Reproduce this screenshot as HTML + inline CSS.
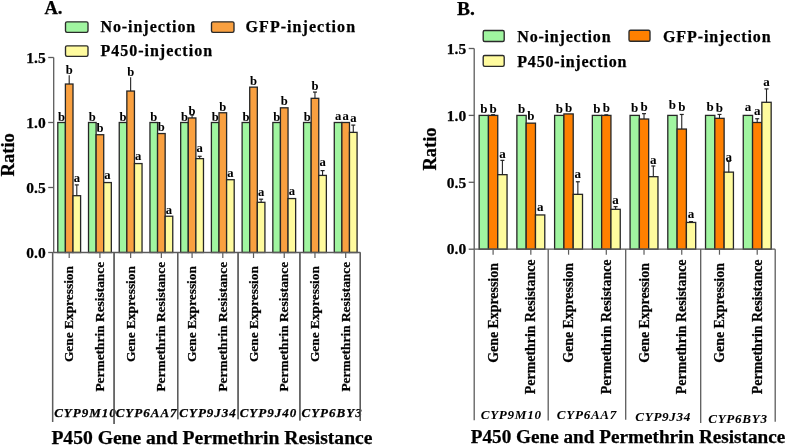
<!DOCTYPE html>
<html><head><meta charset="utf-8"><style>
html,body{margin:0;padding:0;background:#fff;}
body{width:787px;height:446px;overflow:hidden;}
svg{display:block;font-family:"Liberation Serif", serif;filter:blur(0.45px);}
text{stroke:#000;stroke-width:0.25px;paint-order:stroke;}
text.l{stroke-width:0.05px;}
</style></head><body>
<svg width="787" height="446" viewBox="0 0 787 446">
<rect width="787" height="446" fill="#fff"/>
<rect x="57.80" y="122.50" width="7.60" height="130.00" fill="#a0f5a0" stroke="#262626" stroke-width="1.3" rx="0"/>
<text class="l" x="61.60" y="120.70" font-size="12.6" text-anchor="middle" font-weight="bold" fill="#000">b</text>
<rect x="65.40" y="84.02" width="7.60" height="168.48" fill="#f9a040" stroke="#262626" stroke-width="1.3" rx="0"/>
<line x1="69.2" y1="84.01999999999998" x2="69.2" y2="75.31" stroke="#222" stroke-width="1.1"/>
<text class="l" x="69.20" y="73.70" font-size="12.6" text-anchor="middle" font-weight="bold" fill="#000">b</text>
<rect x="73.00" y="195.69" width="7.60" height="56.81" fill="#fffb9e" stroke="#262626" stroke-width="1.3" rx="0"/>
<line x1="76.8" y1="195.69" x2="76.8" y2="184.89999999999998" stroke="#222" stroke-width="1.1"/>
<line x1="74.8" y1="184.89999999999998" x2="78.8" y2="184.89999999999998" stroke="#222" stroke-width="1.2"/>
<text class="l" x="76.80" y="182.10" font-size="12.6" text-anchor="middle" font-weight="bold" fill="#000">a</text>
<rect x="88.52" y="122.50" width="7.60" height="130.00" fill="#a0f5a0" stroke="#262626" stroke-width="1.3" rx="0"/>
<text class="l" x="92.32" y="120.70" font-size="12.6" text-anchor="middle" font-weight="bold" fill="#000">b</text>
<rect x="96.12" y="134.72" width="7.60" height="117.78" fill="#f9a040" stroke="#262626" stroke-width="1.3" rx="0"/>
<text class="l" x="99.92" y="131.70" font-size="12.6" text-anchor="middle" font-weight="bold" fill="#000">b</text>
<rect x="103.72" y="182.56" width="7.60" height="69.94" fill="#fffb9e" stroke="#262626" stroke-width="1.3" rx="0"/>
<text class="l" x="107.52" y="179.20" font-size="12.6" text-anchor="middle" font-weight="bold" fill="#000">a</text>
<rect x="119.24" y="122.50" width="7.60" height="130.00" fill="#a0f5a0" stroke="#262626" stroke-width="1.3" rx="0"/>
<text class="l" x="123.04" y="120.70" font-size="12.6" text-anchor="middle" font-weight="bold" fill="#000">b</text>
<rect x="126.84" y="91.04" width="7.60" height="161.46" fill="#f9a040" stroke="#262626" stroke-width="1.3" rx="0"/>
<line x1="130.64" y1="91.03999999999999" x2="130.64" y2="77.25999999999999" stroke="#222" stroke-width="1.1"/>
<text class="l" x="130.64" y="76.20" font-size="12.6" text-anchor="middle" font-weight="bold" fill="#000">b</text>
<rect x="134.44" y="163.58" width="7.60" height="88.92" fill="#fffb9e" stroke="#262626" stroke-width="1.3" rx="0"/>
<text class="l" x="138.24" y="160.10" font-size="12.6" text-anchor="middle" font-weight="bold" fill="#000">a</text>
<rect x="149.96" y="122.50" width="7.60" height="130.00" fill="#a0f5a0" stroke="#262626" stroke-width="1.3" rx="0"/>
<text class="l" x="153.76" y="120.70" font-size="12.6" text-anchor="middle" font-weight="bold" fill="#000">b</text>
<rect x="157.56" y="133.55" width="7.60" height="118.95" fill="#f9a040" stroke="#262626" stroke-width="1.3" rx="0"/>
<text class="l" x="161.36" y="130.90" font-size="12.6" text-anchor="middle" font-weight="bold" fill="#000">b</text>
<rect x="165.16" y="216.23" width="7.60" height="36.27" fill="#fffb9e" stroke="#262626" stroke-width="1.3" rx="0"/>
<text class="l" x="168.96" y="213.50" font-size="12.6" text-anchor="middle" font-weight="bold" fill="#000">a</text>
<rect x="180.68" y="122.50" width="7.60" height="130.00" fill="#a0f5a0" stroke="#262626" stroke-width="1.3" rx="0"/>
<text class="l" x="184.48" y="120.70" font-size="12.6" text-anchor="middle" font-weight="bold" fill="#000">b</text>
<rect x="188.28" y="117.95" width="7.60" height="134.55" fill="#f9a040" stroke="#262626" stroke-width="1.3" rx="0"/>
<line x1="192.07999999999998" y1="117.95000000000002" x2="192.07999999999998" y2="114.95999999999998" stroke="#222" stroke-width="1.1"/>
<line x1="190.07999999999998" y1="114.95999999999998" x2="194.07999999999998" y2="114.95999999999998" stroke="#222" stroke-width="1.2"/>
<text class="l" x="192.08" y="114.50" font-size="12.6" text-anchor="middle" font-weight="bold" fill="#000">b</text>
<rect x="195.88" y="158.64" width="7.60" height="93.86" fill="#fffb9e" stroke="#262626" stroke-width="1.3" rx="0"/>
<line x1="199.68" y1="158.64" x2="199.68" y2="156.3" stroke="#222" stroke-width="1.1"/>
<line x1="197.68" y1="156.3" x2="201.68" y2="156.3" stroke="#222" stroke-width="1.2"/>
<text class="l" x="199.68" y="152.30" font-size="12.6" text-anchor="middle" font-weight="bold" fill="#000">a</text>
<rect x="211.40" y="122.50" width="7.60" height="130.00" fill="#a0f5a0" stroke="#262626" stroke-width="1.3" rx="0"/>
<text class="l" x="215.20" y="120.70" font-size="12.6" text-anchor="middle" font-weight="bold" fill="#000">b</text>
<rect x="219.00" y="112.75" width="7.60" height="139.75" fill="#f9a040" stroke="#262626" stroke-width="1.3" rx="0"/>
<text class="l" x="222.80" y="110.70" font-size="12.6" text-anchor="middle" font-weight="bold" fill="#000">b</text>
<rect x="226.60" y="179.70" width="7.60" height="72.80" fill="#fffb9e" stroke="#262626" stroke-width="1.3" rx="0"/>
<text class="l" x="230.40" y="176.70" font-size="12.6" text-anchor="middle" font-weight="bold" fill="#000">a</text>
<rect x="242.12" y="122.50" width="7.60" height="130.00" fill="#a0f5a0" stroke="#262626" stroke-width="1.3" rx="0"/>
<text class="l" x="245.92" y="120.70" font-size="12.6" text-anchor="middle" font-weight="bold" fill="#000">b</text>
<rect x="249.72" y="87.14" width="7.60" height="165.36" fill="#f9a040" stroke="#262626" stroke-width="1.3" rx="0"/>
<text class="l" x="253.52" y="85.30" font-size="12.6" text-anchor="middle" font-weight="bold" fill="#000">b</text>
<rect x="257.32" y="202.32" width="7.60" height="50.18" fill="#fffb9e" stroke="#262626" stroke-width="1.3" rx="0"/>
<line x1="261.12" y1="202.32" x2="261.12" y2="199.2" stroke="#222" stroke-width="1.1"/>
<line x1="259.12" y1="199.2" x2="263.12" y2="199.2" stroke="#222" stroke-width="1.2"/>
<text class="l" x="261.12" y="196.20" font-size="12.6" text-anchor="middle" font-weight="bold" fill="#000">a</text>
<rect x="272.84" y="122.50" width="7.60" height="130.00" fill="#a0f5a0" stroke="#262626" stroke-width="1.3" rx="0"/>
<text class="l" x="276.64" y="120.70" font-size="12.6" text-anchor="middle" font-weight="bold" fill="#000">b</text>
<rect x="280.44" y="107.81" width="7.60" height="144.69" fill="#f9a040" stroke="#262626" stroke-width="1.3" rx="0"/>
<text class="l" x="284.24" y="104.70" font-size="12.6" text-anchor="middle" font-weight="bold" fill="#000">b</text>
<rect x="288.04" y="198.55" width="7.60" height="53.95" fill="#fffb9e" stroke="#262626" stroke-width="1.3" rx="0"/>
<text class="l" x="291.84" y="195.20" font-size="12.6" text-anchor="middle" font-weight="bold" fill="#000">a</text>
<rect x="303.56" y="122.50" width="7.60" height="130.00" fill="#a0f5a0" stroke="#262626" stroke-width="1.3" rx="0"/>
<text class="l" x="307.36" y="120.70" font-size="12.6" text-anchor="middle" font-weight="bold" fill="#000">b</text>
<rect x="311.16" y="98.32" width="7.60" height="154.18" fill="#f9a040" stroke="#262626" stroke-width="1.3" rx="0"/>
<line x1="314.96" y1="98.32" x2="314.96" y2="92.08000000000001" stroke="#222" stroke-width="1.1"/>
<line x1="312.96" y1="92.08000000000001" x2="316.96" y2="92.08000000000001" stroke="#222" stroke-width="1.2"/>
<text class="l" x="314.96" y="89.50" font-size="12.6" text-anchor="middle" font-weight="bold" fill="#000">b</text>
<rect x="318.76" y="175.41" width="7.60" height="77.09" fill="#fffb9e" stroke="#262626" stroke-width="1.3" rx="0"/>
<line x1="322.56" y1="175.41" x2="322.56" y2="170.6" stroke="#222" stroke-width="1.1"/>
<line x1="320.56" y1="170.6" x2="324.56" y2="170.6" stroke="#222" stroke-width="1.2"/>
<text class="l" x="322.56" y="166.00" font-size="12.6" text-anchor="middle" font-weight="bold" fill="#000">a</text>
<rect x="334.28" y="122.50" width="7.60" height="130.00" fill="#a0f5a0" stroke="#262626" stroke-width="1.3" rx="0"/>
<text class="l" x="338.08" y="120.00" font-size="12.6" text-anchor="middle" font-weight="bold" fill="#000">a</text>
<rect x="341.88" y="122.50" width="7.60" height="130.00" fill="#f9a040" stroke="#262626" stroke-width="1.3" rx="0"/>
<text class="l" x="345.68" y="120.00" font-size="12.6" text-anchor="middle" font-weight="bold" fill="#000">a</text>
<rect x="349.48" y="132.38" width="7.60" height="120.12" fill="#fffb9e" stroke="#262626" stroke-width="1.3" rx="0"/>
<line x1="353.28000000000003" y1="132.38" x2="353.28000000000003" y2="125.10000000000001" stroke="#222" stroke-width="1.1"/>
<line x1="351.28000000000003" y1="125.10000000000001" x2="355.28000000000003" y2="125.10000000000001" stroke="#222" stroke-width="1.2"/>
<text class="l" x="353.28" y="121.70" font-size="12.6" text-anchor="middle" font-weight="bold" fill="#000">a</text>
<line x1="53.7" y1="57.5" x2="53.7" y2="252.5" stroke="#5c5c5c" stroke-width="1.3"/>
<line x1="48.2" y1="57.5" x2="53.7" y2="57.5" stroke="#5c5c5c" stroke-width="1.3"/>
<text x="45.70" y="62.70" font-size="15.5" text-anchor="end" font-weight="bold" fill="#000">1.5</text>
<line x1="48.2" y1="122.5" x2="53.7" y2="122.5" stroke="#5c5c5c" stroke-width="1.3"/>
<text x="45.70" y="127.70" font-size="15.5" text-anchor="end" font-weight="bold" fill="#000">1.0</text>
<line x1="48.2" y1="187.5" x2="53.7" y2="187.5" stroke="#5c5c5c" stroke-width="1.3"/>
<text x="45.70" y="192.70" font-size="15.5" text-anchor="end" font-weight="bold" fill="#000">0.5</text>
<line x1="48.2" y1="252.5" x2="53.7" y2="252.5" stroke="#5c5c5c" stroke-width="1.3"/>
<text x="45.70" y="257.70" font-size="15.5" text-anchor="end" font-weight="bold" fill="#000">0.0</text>
<line x1="53.7" y1="252.5" x2="360.3" y2="252.5" stroke="#5c5c5c" stroke-width="1.3"/>
<line x1="52.6" y1="252.5" x2="52.6" y2="421.9" stroke="#5c5c5c" stroke-width="1.3"/>
<line x1="114.1" y1="252.5" x2="114.1" y2="423.9" stroke="#5c5c5c" stroke-width="1.3"/>
<line x1="177.7" y1="252.5" x2="177.7" y2="419.3" stroke="#5c5c5c" stroke-width="1.3"/>
<line x1="238.1" y1="252.5" x2="238.1" y2="419.3" stroke="#5c5c5c" stroke-width="1.3"/>
<line x1="299.9" y1="252.5" x2="299.9" y2="420.4" stroke="#5c5c5c" stroke-width="1.3"/>
<line x1="360.3" y1="252.5" x2="360.3" y2="421.0" stroke="#5c5c5c" stroke-width="1.3"/>
<line x1="69.2" y1="252.5" x2="69.2" y2="258.0" stroke="#5c5c5c" stroke-width="1.2"/>
<text x="73.30" y="266.0" font-size="13.4" text-anchor="end" font-weight="bold" transform="rotate(-90 73.30 266.0)" fill="#000">Gene Expression</text>
<line x1="99.92" y1="252.5" x2="99.92" y2="258.0" stroke="#5c5c5c" stroke-width="1.2"/>
<text x="104.02" y="261.8" font-size="13.4" text-anchor="end" font-weight="bold" transform="rotate(-90 104.02 261.8)" fill="#000">Permethrin Resistance</text>
<line x1="130.64" y1="252.5" x2="130.64" y2="258.0" stroke="#5c5c5c" stroke-width="1.2"/>
<text x="134.74" y="266.0" font-size="13.4" text-anchor="end" font-weight="bold" transform="rotate(-90 134.74 266.0)" fill="#000">Gene Expression</text>
<line x1="161.36" y1="252.5" x2="161.36" y2="258.0" stroke="#5c5c5c" stroke-width="1.2"/>
<text x="165.46" y="261.8" font-size="13.4" text-anchor="end" font-weight="bold" transform="rotate(-90 165.46 261.8)" fill="#000">Permethrin Resistance</text>
<line x1="192.07999999999998" y1="252.5" x2="192.07999999999998" y2="258.0" stroke="#5c5c5c" stroke-width="1.2"/>
<text x="196.18" y="266.0" font-size="13.4" text-anchor="end" font-weight="bold" transform="rotate(-90 196.18 266.0)" fill="#000">Gene Expression</text>
<line x1="222.8" y1="252.5" x2="222.8" y2="258.0" stroke="#5c5c5c" stroke-width="1.2"/>
<text x="226.90" y="261.8" font-size="13.4" text-anchor="end" font-weight="bold" transform="rotate(-90 226.90 261.8)" fill="#000">Permethrin Resistance</text>
<line x1="253.51999999999998" y1="252.5" x2="253.51999999999998" y2="258.0" stroke="#5c5c5c" stroke-width="1.2"/>
<text x="257.62" y="266.0" font-size="13.4" text-anchor="end" font-weight="bold" transform="rotate(-90 257.62 266.0)" fill="#000">Gene Expression</text>
<line x1="284.24" y1="252.5" x2="284.24" y2="258.0" stroke="#5c5c5c" stroke-width="1.2"/>
<text x="288.34" y="261.8" font-size="13.4" text-anchor="end" font-weight="bold" transform="rotate(-90 288.34 261.8)" fill="#000">Permethrin Resistance</text>
<line x1="314.96" y1="252.5" x2="314.96" y2="258.0" stroke="#5c5c5c" stroke-width="1.2"/>
<text x="319.06" y="266.0" font-size="13.4" text-anchor="end" font-weight="bold" transform="rotate(-90 319.06 266.0)" fill="#000">Gene Expression</text>
<line x1="345.68" y1="252.5" x2="345.68" y2="258.0" stroke="#5c5c5c" stroke-width="1.2"/>
<text x="349.78" y="261.8" font-size="13.4" text-anchor="end" font-weight="bold" transform="rotate(-90 349.78 261.8)" fill="#000">Permethrin Resistance</text>
<rect x="479.15" y="115.40" width="9.30" height="133.80" fill="#a0f5a0" stroke="#262626" stroke-width="1.3" rx="0"/>
<text class="l" x="483.80" y="112.60" font-size="13.0" text-anchor="middle" font-weight="bold" fill="#000">b</text>
<rect x="488.45" y="115.40" width="9.30" height="133.80" fill="#ff8000" stroke="#262626" stroke-width="1.3" rx="0"/>
<line x1="493.1" y1="115.39999999999998" x2="493.1" y2="114.731" stroke="#222" stroke-width="1.1"/>
<line x1="491.1" y1="114.731" x2="495.1" y2="114.731" stroke="#222" stroke-width="1.2"/>
<text class="l" x="493.10" y="112.60" font-size="13.0" text-anchor="middle" font-weight="bold" fill="#000">b</text>
<rect x="497.75" y="174.67" width="9.30" height="74.53" fill="#fffb9e" stroke="#262626" stroke-width="1.3" rx="0"/>
<line x1="502.4" y1="174.67339999999996" x2="502.4" y2="160.35679999999996" stroke="#222" stroke-width="1.1"/>
<line x1="500.4" y1="160.35679999999996" x2="504.4" y2="160.35679999999996" stroke="#222" stroke-width="1.2"/>
<text class="l" x="502.40" y="158.40" font-size="13.0" text-anchor="middle" font-weight="bold" fill="#000">a</text>
<rect x="516.88" y="115.40" width="9.30" height="133.80" fill="#a0f5a0" stroke="#262626" stroke-width="1.3" rx="0"/>
<text class="l" x="521.53" y="112.60" font-size="13.0" text-anchor="middle" font-weight="bold" fill="#000">b</text>
<rect x="526.18" y="123.16" width="9.30" height="126.04" fill="#ff8000" stroke="#262626" stroke-width="1.3" rx="0"/>
<text class="l" x="530.83" y="120.00" font-size="13.0" text-anchor="middle" font-weight="bold" fill="#000">b</text>
<rect x="535.48" y="214.95" width="9.30" height="34.25" fill="#fffb9e" stroke="#262626" stroke-width="1.3" rx="0"/>
<text class="l" x="540.13" y="210.90" font-size="13.0" text-anchor="middle" font-weight="bold" fill="#000">a</text>
<rect x="554.61" y="115.40" width="9.30" height="133.80" fill="#a0f5a0" stroke="#262626" stroke-width="1.3" rx="0"/>
<text class="l" x="559.26" y="112.60" font-size="13.0" text-anchor="middle" font-weight="bold" fill="#000">b</text>
<rect x="563.91" y="113.93" width="9.30" height="135.27" fill="#ff8000" stroke="#262626" stroke-width="1.3" rx="0"/>
<text class="l" x="568.56" y="111.50" font-size="13.0" text-anchor="middle" font-weight="bold" fill="#000">b</text>
<rect x="573.21" y="194.34" width="9.30" height="54.86" fill="#fffb9e" stroke="#262626" stroke-width="1.3" rx="0"/>
<line x1="577.86" y1="194.34199999999998" x2="577.86" y2="181.76479999999998" stroke="#222" stroke-width="1.1"/>
<line x1="575.86" y1="181.76479999999998" x2="579.86" y2="181.76479999999998" stroke="#222" stroke-width="1.2"/>
<text class="l" x="577.86" y="178.30" font-size="13.0" text-anchor="middle" font-weight="bold" fill="#000">a</text>
<rect x="592.34" y="115.40" width="9.30" height="133.80" fill="#a0f5a0" stroke="#262626" stroke-width="1.3" rx="0"/>
<text class="l" x="596.99" y="112.60" font-size="13.0" text-anchor="middle" font-weight="bold" fill="#000">b</text>
<rect x="601.64" y="115.40" width="9.30" height="133.80" fill="#ff8000" stroke="#262626" stroke-width="1.3" rx="0"/>
<line x1="606.29" y1="115.39999999999998" x2="606.29" y2="114.86479999999997" stroke="#222" stroke-width="1.1"/>
<line x1="604.29" y1="114.86479999999997" x2="608.29" y2="114.86479999999997" stroke="#222" stroke-width="1.2"/>
<text class="l" x="606.29" y="111.90" font-size="13.0" text-anchor="middle" font-weight="bold" fill="#000">b</text>
<rect x="610.94" y="209.33" width="9.30" height="39.87" fill="#fffb9e" stroke="#262626" stroke-width="1.3" rx="0"/>
<line x1="615.5899999999999" y1="209.3276" x2="615.5899999999999" y2="206.65159999999997" stroke="#222" stroke-width="1.1"/>
<line x1="613.5899999999999" y1="206.65159999999997" x2="617.5899999999999" y2="206.65159999999997" stroke="#222" stroke-width="1.2"/>
<text class="l" x="615.59" y="203.70" font-size="13.0" text-anchor="middle" font-weight="bold" fill="#000">a</text>
<rect x="630.07" y="115.40" width="9.30" height="133.80" fill="#a0f5a0" stroke="#262626" stroke-width="1.3" rx="0"/>
<text class="l" x="634.72" y="112.40" font-size="13.0" text-anchor="middle" font-weight="bold" fill="#000">b</text>
<rect x="639.37" y="119.01" width="9.30" height="130.19" fill="#ff8000" stroke="#262626" stroke-width="1.3" rx="0"/>
<line x1="644.02" y1="119.01259999999999" x2="644.02" y2="113.66059999999999" stroke="#222" stroke-width="1.1"/>
<line x1="642.02" y1="113.66059999999999" x2="646.02" y2="113.66059999999999" stroke="#222" stroke-width="1.2"/>
<text class="l" x="644.02" y="110.50" font-size="13.0" text-anchor="middle" font-weight="bold" fill="#000">b</text>
<rect x="648.67" y="176.68" width="9.30" height="72.52" fill="#fffb9e" stroke="#262626" stroke-width="1.3" rx="0"/>
<line x1="653.3199999999999" y1="176.68039999999996" x2="653.3199999999999" y2="165.97639999999998" stroke="#222" stroke-width="1.1"/>
<line x1="651.3199999999999" y1="165.97639999999998" x2="655.3199999999999" y2="165.97639999999998" stroke="#222" stroke-width="1.2"/>
<text class="l" x="653.32" y="163.70" font-size="13.0" text-anchor="middle" font-weight="bold" fill="#000">a</text>
<rect x="667.80" y="115.40" width="9.30" height="133.80" fill="#a0f5a0" stroke="#262626" stroke-width="1.3" rx="0"/>
<text class="l" x="672.45" y="108.50" font-size="13.0" text-anchor="middle" font-weight="bold" fill="#000">b</text>
<rect x="677.10" y="129.05" width="9.30" height="120.15" fill="#ff8000" stroke="#262626" stroke-width="1.3" rx="0"/>
<line x1="681.75" y1="129.0476" x2="681.75" y2="114.46339999999998" stroke="#222" stroke-width="1.1"/>
<line x1="679.75" y1="114.46339999999998" x2="683.75" y2="114.46339999999998" stroke="#222" stroke-width="1.2"/>
<text class="l" x="681.75" y="111.40" font-size="13.0" text-anchor="middle" font-weight="bold" fill="#000">b</text>
<rect x="686.40" y="222.44" width="9.30" height="26.76" fill="#fffb9e" stroke="#262626" stroke-width="1.3" rx="0"/>
<line x1="691.05" y1="222.44" x2="691.05" y2="221.63719999999998" stroke="#222" stroke-width="1.1"/>
<line x1="689.05" y1="221.63719999999998" x2="693.05" y2="221.63719999999998" stroke="#222" stroke-width="1.2"/>
<text class="l" x="691.05" y="217.70" font-size="13.0" text-anchor="middle" font-weight="bold" fill="#000">a</text>
<rect x="705.53" y="115.40" width="9.30" height="133.80" fill="#a0f5a0" stroke="#262626" stroke-width="1.3" rx="0"/>
<text class="l" x="710.18" y="111.00" font-size="13.0" text-anchor="middle" font-weight="bold" fill="#000">b</text>
<rect x="714.83" y="118.34" width="9.30" height="130.86" fill="#ff8000" stroke="#262626" stroke-width="1.3" rx="0"/>
<line x1="719.48" y1="118.34359999999998" x2="719.48" y2="114.46339999999998" stroke="#222" stroke-width="1.1"/>
<line x1="717.48" y1="114.46339999999998" x2="721.48" y2="114.46339999999998" stroke="#222" stroke-width="1.2"/>
<text class="l" x="719.48" y="111.60" font-size="13.0" text-anchor="middle" font-weight="bold" fill="#000">b</text>
<rect x="724.13" y="172.13" width="9.30" height="77.07" fill="#fffb9e" stroke="#262626" stroke-width="1.3" rx="0"/>
<line x1="728.78" y1="172.13119999999998" x2="728.78" y2="161.42719999999997" stroke="#222" stroke-width="1.1"/>
<line x1="726.78" y1="161.42719999999997" x2="730.78" y2="161.42719999999997" stroke="#222" stroke-width="1.2"/>
<text class="l" x="728.78" y="161.30" font-size="13.0" text-anchor="middle" font-weight="bold" fill="#000">a</text>
<rect x="743.26" y="115.40" width="9.30" height="133.80" fill="#a0f5a0" stroke="#262626" stroke-width="1.3" rx="0"/>
<text class="l" x="747.91" y="111.00" font-size="13.0" text-anchor="middle" font-weight="bold" fill="#000">a</text>
<rect x="752.56" y="122.49" width="9.30" height="126.71" fill="#ff8000" stroke="#262626" stroke-width="1.3" rx="0"/>
<line x1="757.21" y1="122.49139999999998" x2="757.21" y2="118.74499999999998" stroke="#222" stroke-width="1.1"/>
<line x1="755.21" y1="118.74499999999998" x2="759.21" y2="118.74499999999998" stroke="#222" stroke-width="1.2"/>
<text class="l" x="757.21" y="115.30" font-size="13.0" text-anchor="middle" font-weight="bold" fill="#000">a</text>
<rect x="761.86" y="102.29" width="9.30" height="146.91" fill="#fffb9e" stroke="#262626" stroke-width="1.3" rx="0"/>
<line x1="766.51" y1="102.28759999999997" x2="766.51" y2="88.90759999999997" stroke="#222" stroke-width="1.1"/>
<line x1="764.51" y1="88.90759999999997" x2="768.51" y2="88.90759999999997" stroke="#222" stroke-width="1.2"/>
<text class="l" x="766.51" y="85.50" font-size="13.0" text-anchor="middle" font-weight="bold" fill="#000">a</text>
<line x1="474.2" y1="48.49999999999997" x2="474.2" y2="249.2" stroke="#5c5c5c" stroke-width="1.3"/>
<line x1="468.7" y1="48.49999999999997" x2="474.2" y2="48.49999999999997" stroke="#5c5c5c" stroke-width="1.3"/>
<text x="466.20" y="53.70" font-size="15.5" text-anchor="end" font-weight="bold" fill="#000">1.5</text>
<line x1="468.7" y1="115.39999999999998" x2="474.2" y2="115.39999999999998" stroke="#5c5c5c" stroke-width="1.3"/>
<text x="466.20" y="120.60" font-size="15.5" text-anchor="end" font-weight="bold" fill="#000">1.0</text>
<line x1="468.7" y1="182.29999999999998" x2="474.2" y2="182.29999999999998" stroke="#5c5c5c" stroke-width="1.3"/>
<text x="466.20" y="187.50" font-size="15.5" text-anchor="end" font-weight="bold" fill="#000">0.5</text>
<line x1="468.7" y1="249.2" x2="474.2" y2="249.2" stroke="#5c5c5c" stroke-width="1.3"/>
<text x="466.20" y="254.40" font-size="15.5" text-anchor="end" font-weight="bold" fill="#000">0.0</text>
<line x1="474.2" y1="249.2" x2="775.2" y2="249.2" stroke="#5c5c5c" stroke-width="1.3"/>
<line x1="474.2" y1="249.2" x2="474.2" y2="420.3" stroke="#5c5c5c" stroke-width="1.3"/>
<line x1="548.2" y1="249.2" x2="548.2" y2="420.5" stroke="#5c5c5c" stroke-width="1.3"/>
<line x1="625.7" y1="249.2" x2="625.7" y2="419.7" stroke="#5c5c5c" stroke-width="1.3"/>
<line x1="700.7" y1="249.2" x2="700.7" y2="422.9" stroke="#5c5c5c" stroke-width="1.3"/>
<line x1="775.2" y1="249.2" x2="775.2" y2="421.8" stroke="#5c5c5c" stroke-width="1.3"/>
<line x1="493.1" y1="249.2" x2="493.1" y2="254.7" stroke="#5c5c5c" stroke-width="1.2"/>
<text x="497.60" y="263.1" font-size="13.9" text-anchor="end" font-weight="bold" transform="rotate(-90 497.60 263.1)" fill="#000">Gene Expression</text>
<line x1="530.83" y1="249.2" x2="530.83" y2="254.7" stroke="#5c5c5c" stroke-width="1.2"/>
<text x="535.33" y="259.5" font-size="13.9" text-anchor="end" font-weight="bold" transform="rotate(-90 535.33 259.5)" fill="#000">Permethrin Resistance</text>
<line x1="568.5600000000001" y1="249.2" x2="568.5600000000001" y2="254.7" stroke="#5c5c5c" stroke-width="1.2"/>
<text x="573.06" y="263.1" font-size="13.9" text-anchor="end" font-weight="bold" transform="rotate(-90 573.06 263.1)" fill="#000">Gene Expression</text>
<line x1="606.29" y1="249.2" x2="606.29" y2="254.7" stroke="#5c5c5c" stroke-width="1.2"/>
<text x="610.79" y="259.5" font-size="13.9" text-anchor="end" font-weight="bold" transform="rotate(-90 610.79 259.5)" fill="#000">Permethrin Resistance</text>
<line x1="644.02" y1="249.2" x2="644.02" y2="254.7" stroke="#5c5c5c" stroke-width="1.2"/>
<text x="648.52" y="263.1" font-size="13.9" text-anchor="end" font-weight="bold" transform="rotate(-90 648.52 263.1)" fill="#000">Gene Expression</text>
<line x1="681.75" y1="249.2" x2="681.75" y2="254.7" stroke="#5c5c5c" stroke-width="1.2"/>
<text x="686.25" y="259.5" font-size="13.9" text-anchor="end" font-weight="bold" transform="rotate(-90 686.25 259.5)" fill="#000">Permethrin Resistance</text>
<line x1="719.48" y1="249.2" x2="719.48" y2="254.7" stroke="#5c5c5c" stroke-width="1.2"/>
<text x="723.98" y="263.1" font-size="13.9" text-anchor="end" font-weight="bold" transform="rotate(-90 723.98 263.1)" fill="#000">Gene Expression</text>
<line x1="757.21" y1="249.2" x2="757.21" y2="254.7" stroke="#5c5c5c" stroke-width="1.2"/>
<text x="761.71" y="259.5" font-size="13.9" text-anchor="end" font-weight="bold" transform="rotate(-90 761.71 259.5)" fill="#000">Permethrin Resistance</text>
<text x="54.20" y="417.3" font-size="13.0" text-anchor="start" font-weight="bold" font-style="italic" letter-spacing="1.0" fill="#000">CYP9M10</text>
<text x="115.70" y="417.3" font-size="13.0" text-anchor="start" font-weight="bold" font-style="italic" letter-spacing="1.0" fill="#000">CYP6AA7</text>
<text x="179.30" y="417.3" font-size="13.0" text-anchor="start" font-weight="bold" font-style="italic" letter-spacing="1.0" fill="#000">CYP9J34</text>
<text x="239.70" y="417.3" font-size="13.0" text-anchor="start" font-weight="bold" font-style="italic" letter-spacing="1.0" fill="#000">CYP9J40</text>
<text x="301.50" y="417.3" font-size="13.0" text-anchor="start" font-weight="bold" font-style="italic" letter-spacing="1.0" fill="#000">CYP6BY3</text>
<text class="l" x="511.20" y="419.4" font-size="13.1" text-anchor="middle" font-weight="bold" font-style="italic" letter-spacing="0.7" fill="#000">CYP9M10</text>
<text class="l" x="586.95" y="419.4" font-size="13.1" text-anchor="middle" font-weight="bold" font-style="italic" letter-spacing="0.7" fill="#000">CYP6AA7</text>
<text class="l" x="663.20" y="421.0" font-size="13.1" text-anchor="middle" font-weight="bold" font-style="italic" letter-spacing="0.7" fill="#000">CYP9J34</text>
<text class="l" x="737.95" y="422.6" font-size="13.1" text-anchor="middle" font-weight="bold" font-style="italic" letter-spacing="0.7" fill="#000">CYP6BY3</text>
<line x1="52.6" y1="252.5" x2="52.6" y2="421.9" stroke="#5c5c5c" stroke-width="1.3"/>
<line x1="114.1" y1="252.5" x2="114.1" y2="423.9" stroke="#5c5c5c" stroke-width="1.3"/>
<line x1="177.7" y1="252.5" x2="177.7" y2="419.3" stroke="#5c5c5c" stroke-width="1.3"/>
<line x1="238.1" y1="252.5" x2="238.1" y2="419.3" stroke="#5c5c5c" stroke-width="1.3"/>
<line x1="299.9" y1="252.5" x2="299.9" y2="420.4" stroke="#5c5c5c" stroke-width="1.3"/>
<line x1="360.3" y1="252.5" x2="360.3" y2="421.0" stroke="#5c5c5c" stroke-width="1.3"/>
<text x="51.4" y="443.8" font-size="19.6" text-anchor="start" font-weight="bold" fill="#000">P450 Gene and Permethrin Resistance</text>
<text x="470.8" y="443.0" font-size="19.2" text-anchor="start" font-weight="bold" fill="#000">P450 Gene and Permethrin Resistance</text>
<text x="44.4" y="14.4" font-size="18.5" text-anchor="start" font-weight="bold" fill="#000">A.</text>
<text x="457.1" y="15.0" font-size="19.5" text-anchor="start" font-weight="bold" fill="#000">B.</text>
<text x="14.2" y="154.8" font-size="18.5" text-anchor="middle" font-weight="bold" transform="rotate(-90 14.2 154.8)" fill="#000">Ratio</text>
<text x="436.3" y="149.0" font-size="18.5" text-anchor="middle" font-weight="bold" transform="rotate(-90 436.3 149.0)" fill="#000">Ratio</text>
<rect x="65.50" y="21.80" width="22.50" height="10.50" fill="#a0f5a0" stroke="#2a2a2a" stroke-width="1.35" rx="1.5"/>
<rect x="65.50" y="45.80" width="22.50" height="10.50" fill="#fffb9e" stroke="#2a2a2a" stroke-width="1.35" rx="1.5"/>
<rect x="211.50" y="21.80" width="22.50" height="10.50" fill="#f9a040" stroke="#2a2a2a" stroke-width="1.35" rx="1.5"/>
<text x="100.4" y="32.4" font-size="16" text-anchor="start" font-weight="bold" letter-spacing="0.95" fill="#000">No-injection</text>
<text x="100.4" y="56.4" font-size="16" text-anchor="start" font-weight="bold" letter-spacing="1.0" fill="#000">P450-injection</text>
<text x="245.6" y="32.4" font-size="16" text-anchor="start" font-weight="bold" letter-spacing="1.05" fill="#000">GFP-injection</text>
<rect x="483.20" y="30.50" width="21.00" height="11.00" fill="#a0f5a0" stroke="#2a2a2a" stroke-width="1.35" rx="1.5"/>
<rect x="483.20" y="55.50" width="21.00" height="10.80" fill="#fffb9e" stroke="#2a2a2a" stroke-width="1.35" rx="1.5"/>
<rect x="629.00" y="30.20" width="21.00" height="11.00" fill="#ff8000" stroke="#2a2a2a" stroke-width="1.35" rx="1.5"/>
<text x="517.3" y="42.0" font-size="16" text-anchor="start" font-weight="bold" letter-spacing="0.8" fill="#000">No-injection</text>
<text x="517.3" y="67.2" font-size="16" text-anchor="start" font-weight="bold" letter-spacing="0.8" fill="#000">P450-injection</text>
<text x="663.0" y="41.9" font-size="16" text-anchor="start" font-weight="bold" letter-spacing="0.9" fill="#000">GFP-injection</text>
</svg>
</body></html>
